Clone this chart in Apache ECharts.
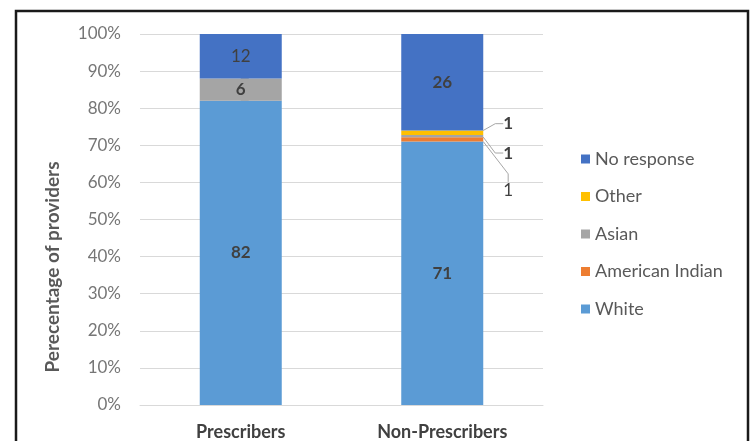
<!DOCTYPE html>
<html>
<head>
<meta charset="utf-8">
<script src="https://cdn.jsdelivr.net/npm/echarts@6/dist/echarts.min.js"></script>
<style>
html,body{margin:0;padding:0;background:#fff;}
#c{width:753px;height:441px;}
</style>
</head>
<body>
<div id="c"></div>
<script>
const categories = ['Prescribers', 'Non-Prescribers'];
const yTicks = [0, 10, 20, 30, 40, 50, 60, 70, 80, 90, 100];
const yTitle = 'Perecentage of providers';
const white = [82, 71];
const americanIndian = [0, 1.2];
const asian = [6, 0.6];
const other = [0, 1.2];
const noResponse = [12, 26];
const shownLabels = {
  white: ['82', '71'],
  americanIndian: ['', '1'],
  asian: ['6', '1'],
  other: ['', '1'],
  noResponse: ['12', '26']
};

const FONT = 'Lato, "Open Sans", sans-serif';
const TXT = '#404040';

const chart = echarts.init(document.getElementById('c'));

function items(vals, labels, weights, side) {
  return vals.map((v, i) => {
    const it = { value: v, label: { formatter: labels[i], fontWeight: weights[i] } };
    if (side && side[i]) Object.assign(it.label, { position: 'right', distance: 20 });
    return it;
  });
}

const baseLabel = { show: true, position: 'inside', color: TXT, fontSize: 17, fontFamily: FONT };

const mk = (name, color, data, dy) => ({
  name: name,
  type: 'bar',
  stack: 'total',
  barWidth: 82,
  itemStyle: { color: color },
  label: baseLabel,
  labelLine: { show: true, length2: 8, lineStyle: { color: '#a6a6a6', width: 1 } },
  labelLayout: dy === undefined ? undefined : function (p) {
    if (p.dataIndex !== 1) return {};
    return { dy: dy };
  },
  data: data
});

chart.setOption({
  animation: false,
  graphic: [{
    type: 'rect', shape: { x: 16, y: 11, width: 732, height: 445 },
    style: { fill: 'none', stroke: '#1a1a1a', lineWidth: 2.5 }, silent: true
  }, {
    type: 'text', x: 53, y: 267, rotation: Math.PI / 2, silent: true,
    style: { text: yTitle, fill: '#595959', font: 'bold 19px ' + FONT, align: 'center', verticalAlign: 'middle' }
  }],
  grid: { left: 140, right: 210, top: 34, bottom: 36 },
  legend: {
    orient: 'vertical', left: 576, top: 145, itemGap: 19.5,
    itemWidth: 9, itemHeight: 9, icon: 'rect', itemTextGap: 7,
    textStyle: { color: '#595959', fontSize: 18, fontFamily: FONT },
    data: ['No response', 'Other', 'Asian', 'American Indian', 'White']
  },
  xAxis: {
    type: 'category', data: categories,
    axisLine: { show: true, lineStyle: { color: '#d9d9d9', width: 1 } },
    axisTick: { show: false },
    axisLabel: { color: TXT, fontSize: 18, fontWeight: 'bold', fontFamily: FONT, margin: 18 }
  },
  yAxis: {
    type: 'value', min: 0, max: 100, interval: 10,
    axisLine: { show: false }, axisTick: { show: false },
    splitLine: { lineStyle: { color: '#d9d9d9', width: 1 } },
    axisLabel: { color: '#767676', fontSize: 17, fontFamily: FONT, margin: 19,
      formatter: v => yTicks.includes(v) ? v + '%' : '' }
  },
  series: [
    mk('White', '#5b9bd5', items(white, shownLabels.white, ['bold', 'bold'])),
    mk('American Indian', '#ed7d31', items(americanIndian, shownLabels.americanIndian, ['normal', 'normal'], [false, true]), 51),
    mk('Asian', '#a5a5a5', items(asian, shownLabels.asian, ['bold', 'bold'], [false, true]), 17),
    mk('Other', '#ffc000', items(other, shownLabels.other, ['normal', 'bold'], [false, true]), -9),
    mk('No response', '#4472c4', items(noResponse, shownLabels.noResponse, ['normal', 'bold']))
  ]
});
</script>
</body>
</html>
